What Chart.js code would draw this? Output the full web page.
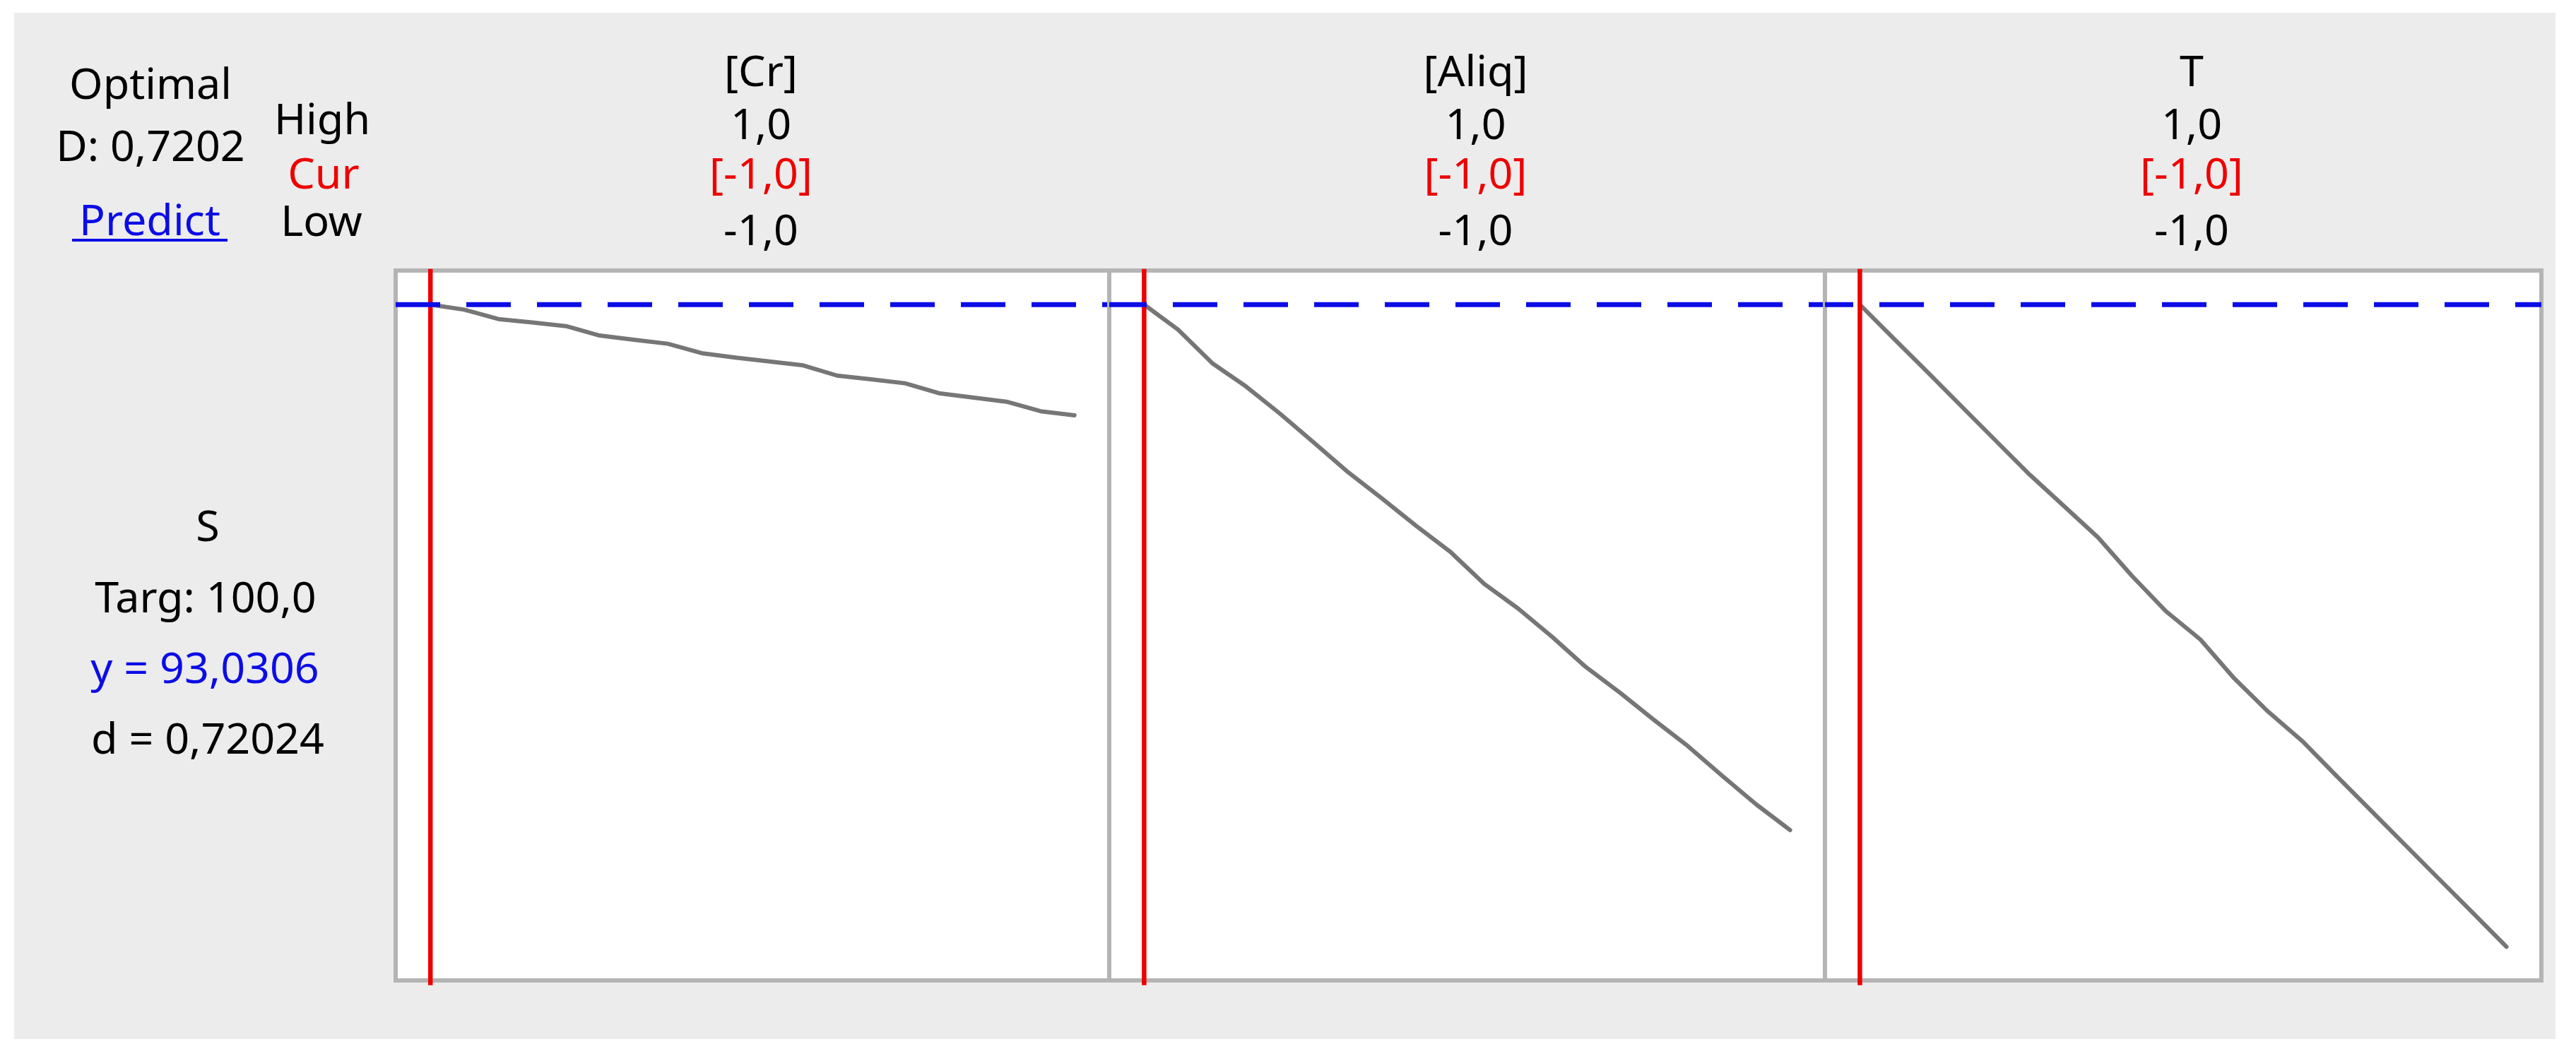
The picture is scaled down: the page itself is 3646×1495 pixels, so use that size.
<!DOCTYPE html>
<html>
<head>
<meta charset="utf-8">
<script src="https://cdn.jsdelivr.net/npm/chart.js@4.4.1/dist/chart.umd.min.js"></script>
<style>
  html, body { margin: 0; padding: 0; background: #fff; }
  #page { position: relative; width: 3646px; height: 1495px; overflow: hidden; }
  #labels { position: absolute; left: 0; top: 0; }
  #labels text { font-family: "Noto Sans", "Open Sans", sans-serif; font-size: 61px; }
  .panel { position: absolute; }
</style>
</head>
<body>
<div id="page">
  <svg id="labels" width="3646" height="1495"></svg>
</div>
<script>
// Facteurs et réglages (Minitab : optimisation de la réponse)
const factors = ["[Cr]", "[Aliq]", "T"];
const highLabels = ["1,0", "1,0", "1,0"];
const curLabels = ["[-1,0]", "[-1,0]", "[-1,0]"];
const lowLabels = ["-1,0", "-1,0", "-1,0"];
const curSettings = [-1, -1, -1];

// Points de la grille (valeurs codées de chaque facteur)
const xGrid = [-1.0, -0.895, -0.789, -0.684, -0.579, -0.474, -0.368, -0.263, -0.158, -0.053,
               0.053, 0.158, 0.263, 0.368, 0.474, 0.579, 0.684, 0.789, 0.895, 1.0];

// Réponse S prédite le long de chaque facteur
const sCr = [93.03, 92.71, 92.11, 91.89, 91.66, 91.06, 90.79, 90.54, 89.94, 89.66,
             89.41, 89.16, 88.51, 88.27, 88.02, 87.39, 87.12, 86.85, 86.24, 85.98];
const sAliq = [93.03, 91.44, 89.30, 87.81, 86.08, 84.24, 82.35, 80.68, 78.95, 77.31,
               75.25, 73.68, 71.88, 69.95, 68.31, 66.58, 64.91, 63.04, 61.21, 59.57];
const sT = [93.03, 90.87, 88.69, 86.52, 84.35, 82.19, 80.19, 78.20, 75.75, 73.50,
            71.71, 69.23, 67.11, 65.25, 63.03, 60.86, 58.68, 56.51, 54.32, 52.14];
const seriesS = [sCr, sAliq, sT];

// Réponse / désirabilité
const yPredicted = 93.0306;
const compositeLabels = ["Optimal", "D: 0,7202"];
const responseLabels = ["S", "Targ: 100,0", "y = 93,0306", "d = 0,72024"];

// Bornes des axes (unités des données)
const X_EXT = 1.108;
const Y_MIN = 50.0, Y_MAX = 95.2;

// Géométrie de la page (pixels)
const panelEdges = [560, 1570, 2583, 3597];
const panelTop = 383, panelBottom = 1388;
const PAD = 12;

const RED = "#ee0000", BLUE = "#0c0ce6", GREY_LINE = "#767676", FRAME = "#b4b4b4";

// ---- textes (SVG) ----
const svg = document.getElementById("labels");
function addText(str, x, y, color, anchor) {
  const t = document.createElementNS("http://www.w3.org/2000/svg", "text");
  t.setAttribute("x", x);
  t.setAttribute("y", y);
  t.setAttribute("fill", color || "#000");
  t.setAttribute("text-anchor", anchor || "middle");
  t.textContent = str;
  svg.appendChild(t);
  return t;
}
function addRect(x, y, w, h, color) {
  const r = document.createElementNS("http://www.w3.org/2000/svg", "rect");
  r.setAttribute("x", x); r.setAttribute("y", y);
  r.setAttribute("width", w); r.setAttribute("height", h);
  r.setAttribute("fill", color);
  svg.appendChild(r);
}

addRect(20, 18, 3597, 1453, "#ececec");

addText(compositeLabels[0], 213, 140);
addText(compositeLabels[1], 213, 228);
addText("Predict", 212, 333, BLUE);
addRect(102, 338, 220, 4, BLUE);
addText("High", 456, 190);
addText("Cur", 458, 267, RED);
addText("Low", 455, 334);

factors.forEach((f, i) => {
  const cx = (panelEdges[i] + panelEdges[i + 1]) / 2 + 12;
  addText(f, cx, 122);
  addText(highLabels[i], cx, 197);
  addText(curLabels[i], cx, 267, RED);
  addText(lowLabels[i], cx, 347);
});

addText(responseLabels[0], 294, 766);
addText(responseLabels[1], 291, 867);
addText(responseLabels[2], 290, 967, BLUE);
addText(responseLabels[3], 294, 1067);

// ---- cadre du panneau ----
const framePlugin = {
  id: "frame",
  beforeDatasetsDraw(chart) {
    const { ctx, chartArea: a } = chart;
    ctx.save();
    ctx.fillStyle = "#fff";
    ctx.fillRect(a.left, a.top, a.right - a.left, a.bottom - a.top);
    ctx.strokeStyle = FRAME;
    ctx.lineWidth = 6;
    ctx.strokeRect(a.left, a.top, a.right - a.left, a.bottom - a.top);
    ctx.restore();
  }
};

// ---- un graphique par facteur ----
const page = document.getElementById("page");
factors.forEach((f, i) => {
  const w = panelEdges[i + 1] - panelEdges[i];
  const h = panelBottom - panelTop;
  const box = document.createElement("div");
  box.className = "panel";
  box.style.left = (panelEdges[i] - PAD) + "px";
  box.style.top = (panelTop - PAD) + "px";
  const cv = document.createElement("canvas");
  cv.width = w + 2 * PAD;
  cv.height = h + 2 * PAD;
  box.appendChild(cv);
  page.appendChild(box);

  // phase du pointillé continue d'un panneau à l'autre
  const dashPhase = (panelEdges[i] - panelEdges[0]) % 100;

  new Chart(cv.getContext("2d"), {
    type: "line",
    data: {
      datasets: [
        {
          label: "y",
          data: [{ x: -X_EXT, y: yPredicted }, { x: X_EXT, y: yPredicted }],
          borderColor: BLUE,
          borderWidth: 7,
          borderDash: [63, 37],
          borderDashOffset: dashPhase,
          pointRadius: 0,
          order: 0
        },
        {
          label: "Cur",
          data: [{ x: curSettings[i], y: Y_MIN - 0.3 }, { x: curSettings[i], y: Y_MAX + 0.1 }],
          borderColor: RED,
          borderWidth: 6.5,
          pointRadius: 0,
          clip: false,
          order: 1
        },
        {
          label: "S",
          data: xGrid.map((x, k) => ({ x: x, y: seriesS[i][k] })),
          borderColor: GREY_LINE,
          borderWidth: 6,
          borderJoinStyle: "round",
          borderCapStyle: "round",
          pointRadius: 0,
          tension: 0,
          order: 2
        }
      ]
    },
    options: {
      responsive: false,
      animation: false,
      events: [],
      layout: { padding: PAD },
      plugins: { legend: { display: false }, tooltip: { enabled: false } },
      scales: {
        x: { type: "linear", min: -X_EXT, max: X_EXT, display: false },
        y: { type: "linear", min: Y_MIN, max: Y_MAX, display: false }
      }
    },
    plugins: [framePlugin]
  });
});
</script>
</body>
</html>
